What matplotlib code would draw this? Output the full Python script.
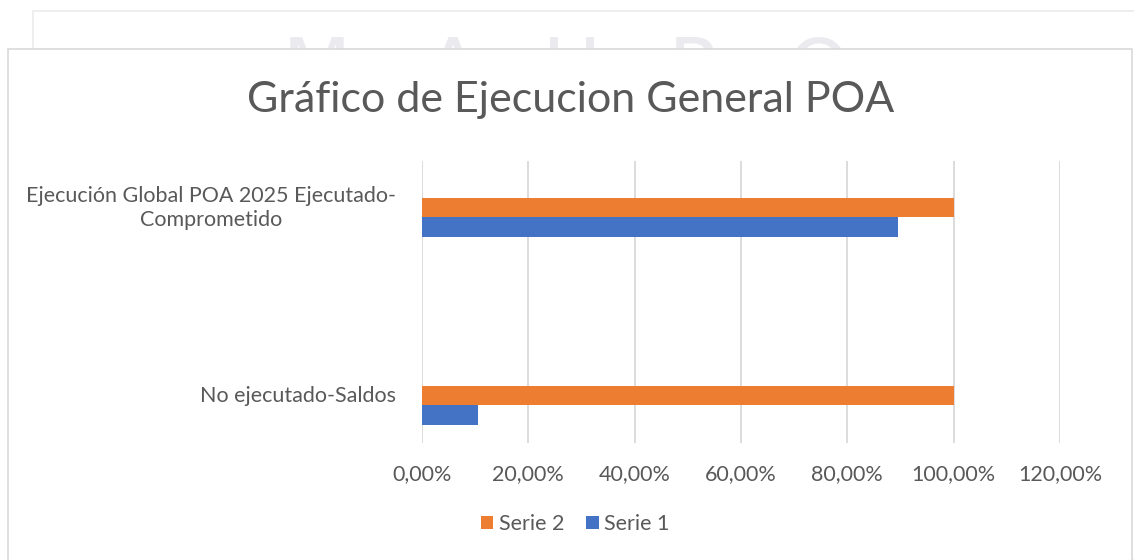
import matplotlib.pyplot as plt
from matplotlib.patches import Rectangle, PathPatch
from matplotlib.textpath import TextPath
from matplotlib.font_manager import FontProperties
from matplotlib.transforms import IdentityTransform, Affine2D
from matplotlib.ticker import FuncFormatter

plt.rcParams['font.family'] = ['Lato', 'DejaVu Sans']

categories = ['No ejecutado-Saldos', 'Ejecución Global POA 2025 Ejecutado-\nComprometido']
serie1 = [0.105, 0.895]
serie2 = [1.0, 1.0]
xticks = [0, 0.2, 0.4, 0.6, 0.8, 1.0, 1.2]
watermark = ['M', 'A', 'H', 'P', 'O']
watermark_x = [317, 453, 572, 695, 819]

text_col = '#595959'
orange = '#ED7D31'
blue = '#4472C4'
fs = 15.5

W, H = 1134, 560
fig = plt.figure(figsize=(W / 100, H / 100), dpi=100)

# background page: faint frame and watermark letters behind the chart box
fig.patches.append(Rectangle((33 / W, 0), 1.2, 1 - 11 / H, transform=fig.transFigure,
                             facecolor='white', edgecolor='#EBEBEB', lw=1.2, zorder=0))
fp = FontProperties(family='DejaVu Sans')
for ch, cx in zip(watermark, watermark_x):
    tp = TextPath((0, 0), ch, size=80, prop=fp)
    ext = tp.get_extents()
    tr = Affine2D().translate(cx - (ext.x0 + ext.x1) / 2, (H - 37) - ext.y1)
    fig.patches.append(PathPatch(tr.transform_path(tp), transform=IdentityTransform(),
                                 facecolor='#EBEBEF', edgecolor='none', zorder=1))
fig.patches.append(Rectangle((8 / W, -0.01), 1124 / W, 1 - 49 / H + 0.01,
                             transform=fig.transFigure, facecolor='white',
                             edgecolor='#D9D9D9', lw=1.2, zorder=2))

ax = fig.add_axes([422 / W, 1 - 443 / H, 638 / W, 282 / H], zorder=3)
ax.patch.set_alpha(0)

y = [0, 1]
h = 0.104
ax.barh([v + h / 2 for v in y], serie2, height=h, color=orange, label='Serie 2', zorder=3)
ax.barh([v - h / 2 for v in y], serie1, height=h, color=blue, label='Serie 1', zorder=3)

ax.set_xlim(0, 1.2)
ax.set_ylim(-0.2, 1.30)
ax.set_xticks(xticks)
ax.xaxis.set_major_formatter(FuncFormatter(lambda v, p: f'{v * 100:.2f}%'.replace('.', ',')))
ax.tick_params(axis='x', length=0, pad=15, labelsize=fs, labelcolor=text_col)
ax.grid(axis='x', color='#D9D9D9', lw=1.3, zorder=0)
ax.set_yticks([])
for s in ax.spines.values():
    s.set_visible(False)

for v, lab in zip(y, categories):
    ax.text(-0.04, v + 0.05, lab, transform=ax.get_yaxis_transform(), ha='right', va='center',
            multialignment='center', fontsize=fs, color=text_col, linespacing=1.25)

fig.text(0.503, 1 - 100 / H, 'Gráfico de Ejecucion General POA', fontsize=31,
         color=text_col, ha='center', va='center', zorder=4)

ax.legend(loc='center', bbox_to_anchor=(575 / W, 1 - 524 / H),
          bbox_transform=fig.transFigure, ncol=2, frameon=False, fontsize=fs,
          labelcolor=text_col, handlelength=0.6, handleheight=0.6, handletextpad=0.25,
          columnspacing=1.0)

fig.savefig('out.png', dpi=100)
